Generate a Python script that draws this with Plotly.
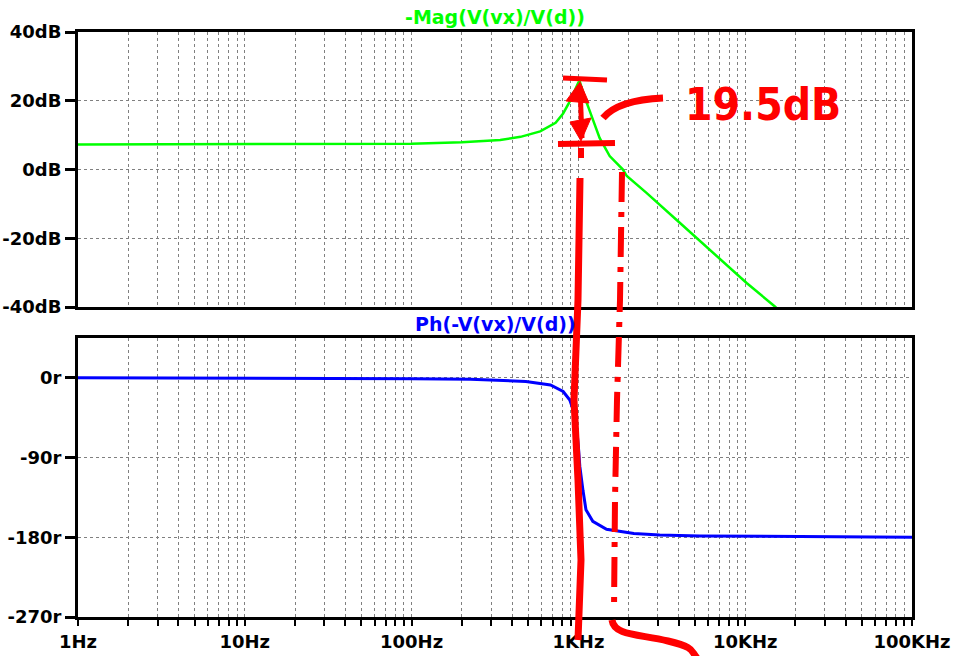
import plotly.graph_objects as go

# ---------------- data ----------------
mag_freq = [1, 10, 50, 100, 200, 260, 340, 450, 590, 730, 810, 890, 960, 1000, 1020,
            1050, 1100, 1160, 1225, 1340, 1540, 1700, 1850, 1950, 2560, 4050, 6440, 10200, 15000, 16000]
mag_db = [7.3, 7.3, 7.4, 7.5, 7.9, 8.2, 8.6, 9.5, 11.1, 13.6, 16.3, 19.9, 23.5, 25.3, 25.5,
          23.5, 20.5, 17.5, 14.5, 9.2, 3.9, 1.7, 0.0, -1.9, -6.8, -15.5, -24.2, -33.0, -39.8, -41.0]

ph_freq = [1, 40, 100, 225, 485, 680, 810, 888, 930, 960, 980, 1000, 1020, 1065, 1110,
           1220, 1475, 2150, 3070, 5350, 20000, 100000]
ph_deg = [0, -0.5, -1, -1.7, -4, -8, -15.4, -25, -36, -48, -60, -78, -100, -127, -149,
          -162, -171, -175.6, -177.5, -178.5, -179.5, -180]

x_decades = [1, 10, 100, 1000, 10000, 100000]
x_labels = ["1Hz", "10Hz", "100Hz", "1KHz", "10KHz", "100KHz"]
mag_ticks = [40, 20, 0, -20, -40]
mag_labels = ["40dB", "20dB", "0dB", "-20dB", "-40dB"]
ph_ticks = [0, -90, -180, -270]
ph_labels = ["0r", "-90r", "-180r", "-270r"]

title_mag = "-Mag(V(vx)/V(d))"
title_ph = "Ph(-V(vx)/V(d))"
note_text = "19.5dB"

# ---------------- layout geometry ----------------
W, H = 953, 656
ML, MR, MT, MB = 78, 41, 32, 39
PW, PH = W - ML - MR, H - MT - MB


def px(x):
    return (x - ML) / PW


def py(y):
    return (H - MB - y) / PH


def path(pts, closed=False):
    s = "M " + " L ".join(f"{px(a):.5f},{py(b):.5f}" for a, b in pts)
    return s + (" Z" if closed else "")


# all tick values (decades + minor 2..9) for grid lines
all_ticks = []
all_text = []
for d in x_decades[:-1]:
    for m in range(1, 10):
        all_ticks.append(d * m)
        all_text.append(x_labels[x_decades.index(d)] if m == 1 else "")
all_ticks.append(x_decades[-1])
all_text.append(x_labels[-1])

GREEN = "rgb(0,255,0)"
BLUE = "rgb(0,0,255)"
RED = "rgb(255,0,0)"
GRID = "rgb(128,128,128)"
FONT = "DejaVu Sans"

fig = go.Figure()
fig.add_trace(go.Scatter(x=mag_freq, y=mag_db, mode="lines",
                         line=dict(color=GREEN, width=2.5), xaxis="x", yaxis="y",
                         showlegend=False, hoverinfo="skip"))
fig.add_trace(go.Scatter(x=ph_freq, y=ph_deg, mode="lines",
                         line=dict(color=BLUE, width=3), xaxis="x2", yaxis="y2",
                         showlegend=False, hoverinfo="skip"))

common_x = dict(type="log", range=[0, 5], tickvals=all_ticks, automargin=False,
                showgrid=True, gridcolor=GRID, griddash="3px,3px", gridwidth=1,
                showline=True, mirror=True, linecolor="black", linewidth=3,
                zeroline=False)

axis_font = dict(family=FONT, size=18, color="black", weight="bold")

fig.update_layout(
    width=W, height=H,
    margin=dict(l=ML, r=MR, t=MT, b=MB),
    paper_bgcolor="white", plot_bgcolor="white",
    xaxis=dict(**common_x, domain=[0, 1], anchor="y", showticklabels=False, ticks=""),
    xaxis2=dict(**common_x, domain=[0, 1], anchor="y2", matches="x",
                ticktext=all_text, ticks="outside", ticklen=6, tickwidth=2,
                tickcolor="black", tickfont=axis_font),
    yaxis=dict(domain=[py(307), 1], anchor="x", range=[-40, 40], automargin=False,
               tickvals=mag_ticks, ticktext=mag_labels,
               showgrid=True, gridcolor=GRID, griddash="3px,3px", gridwidth=1,
               showline=True, mirror=True, linecolor="black", linewidth=3,
               ticks="outside", ticklen=10, tickwidth=3, tickcolor="black",
               tickfont=axis_font, zeroline=False),
    yaxis2=dict(domain=[0, py(338)], anchor="x2", range=[-270, 45], automargin=False,
                tickvals=ph_ticks, ticktext=ph_labels,
                showgrid=True, gridcolor=GRID, griddash="3px,3px", gridwidth=1,
                showline=True, mirror=True, linecolor="black", linewidth=3,
                ticks="outside", ticklen=10, tickwidth=3, tickcolor="black",
                tickfont=axis_font, zeroline=False),
)

# titles
fig.add_annotation(x=px(495), y=py(17), xref="paper", yref="paper", text=title_mag,
                   xanchor="center", yanchor="middle", showarrow=False,
                   font=dict(family=FONT, size=19, color=GREEN, weight="bold"))
fig.add_annotation(x=px(495), y=py(324), xref="paper", yref="paper", text=title_ph,
                   xanchor="center", yanchor="middle", showarrow=False,
                   font=dict(family=FONT, size=19, color=BLUE, weight="bold"))

# ---------------- red hand-drawn annotation ----------------
shapes = []


def red_line(pts, width, dash="solid"):
    shapes.append(dict(type="path", path=path(pts), xref="paper", yref="paper",
                       line=dict(color=RED, width=width, dash=dash), layer="above"))


def red_fill(pts):
    shapes.append(dict(type="path", path=path(pts, True), xref="paper", yref="paper",
                       line=dict(color=RED, width=1), fillcolor=RED, layer="above"))


# top and bottom bars
red_line([(563, 78), (607, 80)], 5)
red_line([(558, 144), (615, 143)], 6)
# arrow shaft + heads
red_line([(580, 86), (582, 138)], 5)
red_fill([(566, 101), (580, 82), (589, 103)])
red_fill([(570, 122), (581, 141), (591, 118)])
# left vertical line
red_line([(581, 148), (581, 158)], 6)
red_line([(580, 178), (578, 300), (574, 400), (578, 480), (581, 560), (578, 640)], 7)
# right dash-dot line
red_line([(622, 172), (620, 300), (617, 400), (615, 500), (614, 610)], 6,
         dash="30px,10px,5px,10px")
# S curve at bottom
shapes.append(dict(type="path", xref="paper", yref="paper", layer="above",
                   path=(f"M {px(612):.5f},{py(620):.5f} "
                         f"C {px(614):.5f},{py(636):.5f} {px(640):.5f},{py(634):.5f} "
                         f"{px(668):.5f},{py(641):.5f} "
                         f"S {px(690):.5f},{py(650):.5f} {px(697):.5f},{py(658):.5f}"),
                   line=dict(color=RED, width=7)))
# connector from text to bar
shapes.append(dict(type="path", xref="paper", yref="paper", layer="above",
                   path=(f"M {px(603):.5f},{py(118):.5f} "
                         f"Q {px(618):.5f},{py(100):.5f} {px(663):.5f},{py(98):.5f}"),
                   line=dict(color=RED, width=7)))
fig.update_layout(shapes=shapes)

fig.add_annotation(x=px(683), y=py(104), xref="paper", yref="paper", text=note_text,
                   xanchor="left", yanchor="middle", showarrow=False,
                   font=dict(family="DejaVu Sans Condensed, DejaVu Sans", size=44,
                             color=RED, weight="bold"))

fig.write_html("out.html")
